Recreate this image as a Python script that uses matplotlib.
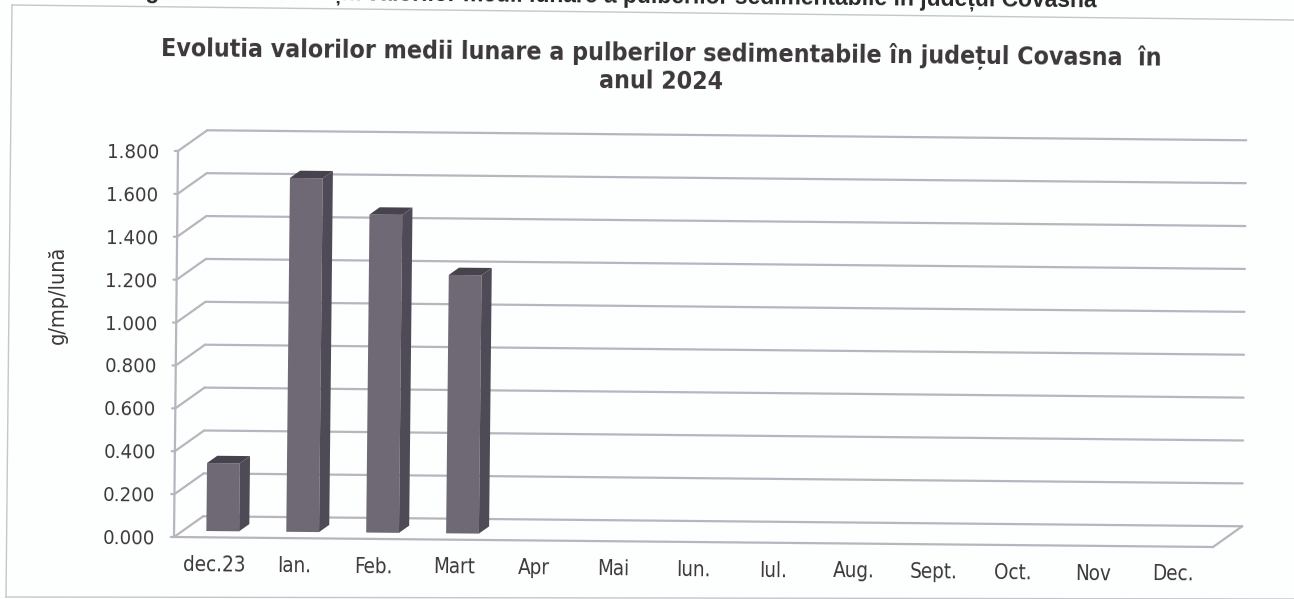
import matplotlib
matplotlib.use('Agg')
import matplotlib.pyplot as plt
from matplotlib.transforms import Affine2D

categories = ['dec.23', 'Ian.', 'Feb.', 'Mart', 'Apr', 'Mai', 'Iun.', 'Iul.', 'Aug.', 'Sept.', 'Oct.', 'Nov', 'Dec.']
values = [0.317, 1.65, 1.483, 1.205]
y_ticks = [0.0, 0.2, 0.4, 0.6, 0.8, 1.0, 1.2, 1.4, 1.6, 1.8]
title = 'Evolutia valorilor medii lunare a pulberilor sedimentabile în județul Covasna  în\nanul 2024'
y_label = 'g/mp/lună'
clipped_caption = 'Figura            Evoluția valorilor medii lunare a pulberilor sedimentabile în județul Covasna'

W, H = 1294, 599
FONT = dict(family='DejaVu Sans', stretch='condensed')
TXT = '#3b373a'
GRID = '#b8b5bf'
FRONT = '#6f6976'
SIDE = '#4f4b56'
TOP = '#47434c'
TILT = -0.55

fig = plt.figure(figsize=(W / 100, H / 100), dpi=100, facecolor='#fdfefe')
ox, oy = 174, H - 537
ax = fig.add_axes([ox / W, oy / H, 1039 / W, 386 / H])
ax.set_xlim(0, len(categories))
ax.set_ylim(0, 1.8)
ax.axis('off')

# The chart plane is slightly sheared, as in the scanned page
shear = (Affine2D().translate(-ox, -oy)
         + Affine2D.from_values(1, -10 / 1039, 4 / 386, 1, 0, 0)
         + Affine2D().translate(ox, oy))
T = ax.transData + shear
DX, DY = 29 / 79.9, 21 / 214.4   # full depth of the floor, in data units
Z0, Z1 = 0.30, 0.65              # bar depth range
BW = 0.41

line = dict(color=GRID, lw=1.6, transform=T, clip_on=False, solid_capstyle='round')
for v in y_ticks:
    ax.plot([DX, len(categories) + DX], [v + DY, v + DY], **line)
    ax.plot([0, DX], [v, v + DY], **line)
    ax.plot([-0.04, 0], [v, v], **line)
ax.plot([0, 0], [0, 1.8], **line)
ax.plot([0, len(categories)], [0, 0], **line)
ax.plot([len(categories), len(categories) + DX], [0, DY], **line)

for i, v in enumerate(values):
    c = i + 0.5
    l, r = c - BW / 2 + Z0 * DX, c + BW / 2 + Z0 * DX
    b, t = Z0 * DY, v + Z0 * DY
    ddx, ddy = (Z1 - Z0) * DX, (Z1 - Z0) * DY
    ax.bar(l, t - b, width=r - l, bottom=b, align='edge', color=FRONT, transform=T, zorder=4, clip_on=False)
    ax.fill([r, r + ddx, r + ddx, r], [b, b + ddy, t + ddy, t], color=SIDE, lw=0, transform=T, zorder=4, clip_on=False)
    ax.fill([l, l + ddx, r + ddx, r], [t, t + ddy, t + ddy, t], color=TOP, lw=0, transform=T, zorder=4, clip_on=False)

for v in y_ticks:
    ax.annotate(f'{v:.3f}', xy=(0, v), xycoords=T, xytext=(-19, -2), textcoords='offset pixels',
                ha='right', va='center', fontsize=14.6, color=TXT, rotation=TILT, rotation_mode='anchor', **FONT)
for i, name in enumerate(categories):
    ax.annotate(name, xy=(i + 0.5, 0), xycoords=T, xytext=(0, -28), textcoords='offset pixels',
                ha='center', va='center', fontsize=14.8, color=TXT, rotation=TILT, rotation_mode='anchor', **FONT)

fig.text(58 / W, 1 - 295 / H, y_label, rotation=90, ha='center', va='center', fontsize=15.5, color=TXT, **FONT)
fig.text(661 / W, 1 - 67 / H, title, ha='center', va='center', fontsize=17.8, fontweight='bold', color=TXT,
         rotation=TILT, rotation_mode='anchor', linespacing=1.12, multialignment='center', **FONT)
fig.text(1097 / W, 1 - 7 / H, clipped_caption, ha='right', va='baseline', fontsize=16.5, fontweight='bold',
         color='#2b282a', rotation=TILT, rotation_mode='anchor', family='Liberation Sans')

frame = dict(color='#c4c6cc', lw=1.0, transform=fig.transFigure, clip_on=False)
fig.add_artist(plt.Line2D([12 / W, 1294 / W], [1 - 5 / H, 1 - 20 / H], **frame))
fig.add_artist(plt.Line2D([12 / W, 6 / W], [1 - 5 / H, 1 - 597 / H], **frame))
fig.add_artist(plt.Line2D([6 / W, 1294 / W], [1 - 597 / H, 1 - 599 / H], **frame))

fig.savefig('out.png', dpi=100, facecolor=fig.get_facecolor())
